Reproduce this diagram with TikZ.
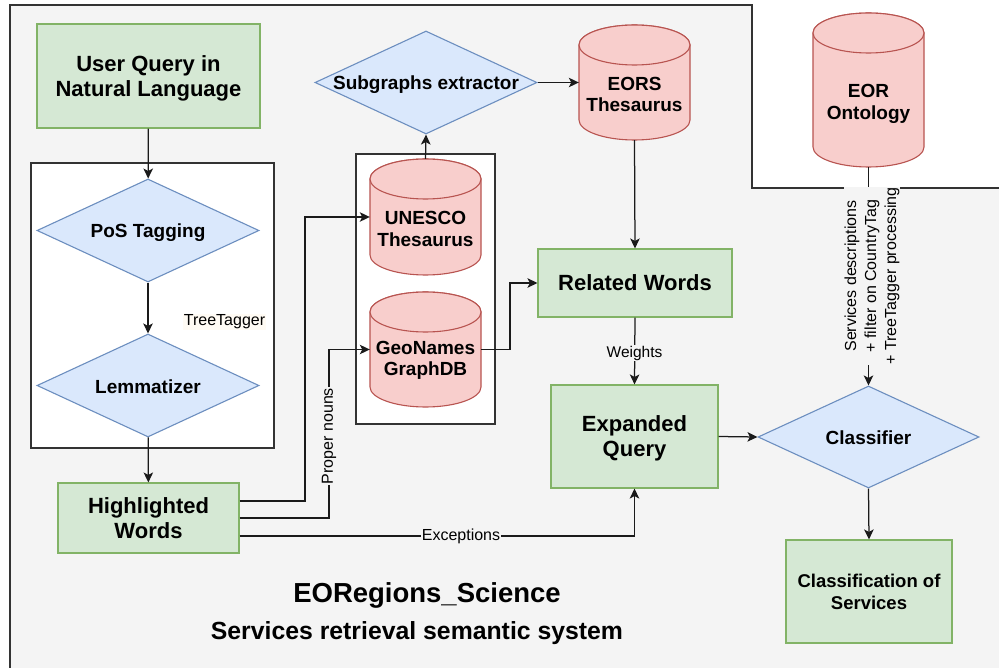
\documentclass[tikz,border=0pt]{standalone}
\usepackage{fontspec}
\setmainfont{Liberation Sans}
\usetikzlibrary{shapes.geometric,arrows.meta,calc}

\definecolor{pagebg}{HTML}{F4F4F4}
\definecolor{grfill}{HTML}{D5E8D4}
\definecolor{grline}{HTML}{82B366}
\definecolor{blfill}{HTML}{DAE8FC}
\definecolor{blline}{HTML}{6C8EBF}
\definecolor{rdfill}{HTML}{F8CECC}
\definecolor{rdline}{HTML}{B85450}
\definecolor{edgecol}{HTML}{1A1A1A}
\definecolor{framecol}{HTML}{333333}
\definecolor{notefill}{HTML}{FFFBF4}

\newcommand{\fsz}[2]{\fontsize{#1}{#2}\selectfont}

% database cylinder: name, centre x, top y, bottom y, text, text offset
\newcommand{\dbcyl}[6]{%
  \draw[dbbody] ({#2-55.5},{#3+20}) -- ({#2-55.5},{#4-20})
    arc[start angle=180,end angle=360,x radius=55.5pt,y radius=20pt]
    -- ({#2+55.5},{#3+20})
    arc[start angle=0,end angle=180,x radius=55.5pt,y radius=20pt] -- cycle;
  \draw[dbbody] (#2,{#3+20}) ellipse[x radius=55.5pt,y radius=20pt];
  \node[inner sep=0pt,minimum width=111pt,minimum height={(#4-#3)*1pt}] (#1) at (#2,{(#3+#4)/2}) {};
  \node[dbtext] (#1-label) at (#2,{(#3+#4)/2+#6}) {#5};
}

\begin{document}
\begin{tikzpicture}[x=1pt,y=-1pt,
  greenbox/.style={draw=grline,fill=grfill,line width=1.1pt,align=center,
    font=\bfseries\fsz{22}{25},inner sep=0pt,text depth=0pt},
  decision/.style={diamond,aspect=2.15,draw=blline,fill=blfill,line width=1.1pt,
    inner sep=0pt,font=\bfseries\fsz{19}{22},text height=15pt,text depth=0pt},
  dbbody/.style={draw=rdline,fill=rdfill,line width=1.1pt},
  dbtext/.style={font=\bfseries\fsz{19}{21.5},align=center},
  groupbox/.style={draw=framecol,fill=white,line width=1.1pt},
  arr/.style={draw=edgecol,line width=1.25pt,-{Stealth[length=10pt,width=9.5pt,inset=2.5pt]}},
  lbl/.style={font=\fsz{16}{20},fill=pagebg,inner sep=1pt,align=center},
]
\useasboundingbox (0,0) rectangle (999,668);
\fill[white] (0,0) rectangle (999,668);

% stepped system area
\fill[pagebg] (10,5) -- (752,5) -- (752,188) -- (999,188) -- (999,668) -- (10,668) -- cycle;
\draw[framecol,line width=1.1pt] (10,668) -- (10,5) -- (752,5) -- (752,188) -- (999,188);

% grouping frames
\draw[groupbox] (31,163) rectangle (274,448);
\draw[groupbox] (356,154) rectangle (495,424);

% databases
\dbcyl{unesco}{425.5}{159}{275}{UNESCO\\Thesaurus}{12}
\dbcyl{geo}{425.5}{292}{407}{GeoNames\\GraphDB}{11}
\dbcyl{eors}{634.5}{25}{140}{EORS\\Thesaurus}{12}
\dbcyl{ont}{868.5}{13}{167}{EOR\\Ontology}{14}

% process boxes
\node[greenbox,minimum width=223pt,minimum height=104pt] (uq) at (148.5,76) {User Query in\\Natural Language};
\node[greenbox,minimum width=181pt,minimum height=70pt] (hw) at (148.5,518) {Highlighted\\Words};
\node[greenbox,minimum width=194pt,minimum height=68pt] (rw) at (635,283) {Related Words};
\node[greenbox,minimum width=167pt,minimum height=103pt] (eq) at (634.5,436.5) {Expanded\\Query};
\node[greenbox,minimum width=166pt,minimum height=103pt,font=\bfseries\fsz{18.5}{22}] (cos) at (869,591.5) {Classification of\\Services};

% decisions
\node[decision,minimum width=222pt,minimum height=103pt] (pos) at (148,230.5) {PoS Tagging};
\node[decision,minimum width=222pt,minimum height=103pt] (lem) at (148,385.5) {Lemmatizer};
\node[decision,minimum width=222pt,minimum height=103pt] (sub) at (426,82.5) {Subgraphs extractor};
\node[decision,minimum width=221pt,minimum height=102pt] (cls) at (868.5,437) {Classifier};

% connectors
\draw[arr] (uq) -- (pos);
\draw[arr] (pos) -- (lem);
\draw[arr] (lem) -- (hw);
\draw[arr] ([yshift=17pt]hw.east) -| (305,217) -- (unesco.west);
\draw[arr] (hw.east) -| (329,349.5) -- (geo.west);
\draw[arr] ([yshift=-18pt]hw.east) -| (eq.south);
\draw[arr] (unesco.north) -- (sub.south);
\draw[arr] (sub.east) -- (eors.west);
\draw[arr] (eors.south) -- (rw.north);
\draw[arr] (geo.east) -| (510,283) -- (rw.west);
\draw[arr] (rw.south) -- (eq.north);
\draw[arr] (eq.east) -- (cls.west);
\draw[arr] (ont.south) -- (cls.north);
\draw[arr] (cls.south) -- (cos.north);

% connector labels
\node[lbl,rotate=90] (pn) at (329,436) {Proper nouns};
\node[lbl] (exc) at (461,536) {Exceptions};
\node[lbl,font=\fsz{15.5}{18}] (wt) at (634.5,353) {Weights};
\node[lbl,rotate=90] (svc) at (872,276) {Services descriptions\\+ filter on CountryTag\\+ TreeTagger processing};
\node[lbl,fill=notefill] (tt) at (224.5,322) {TreeTagger};

% caption
\node[font=\bfseries\fsz{27.5}{30}] (title) at (427,595) {EORegions\_Science};
\node[font=\bfseries\fsz{24.8}{28}] (subtitle) at (417,633) {Services retrieval semantic system};
\end{tikzpicture}
\end{document}
